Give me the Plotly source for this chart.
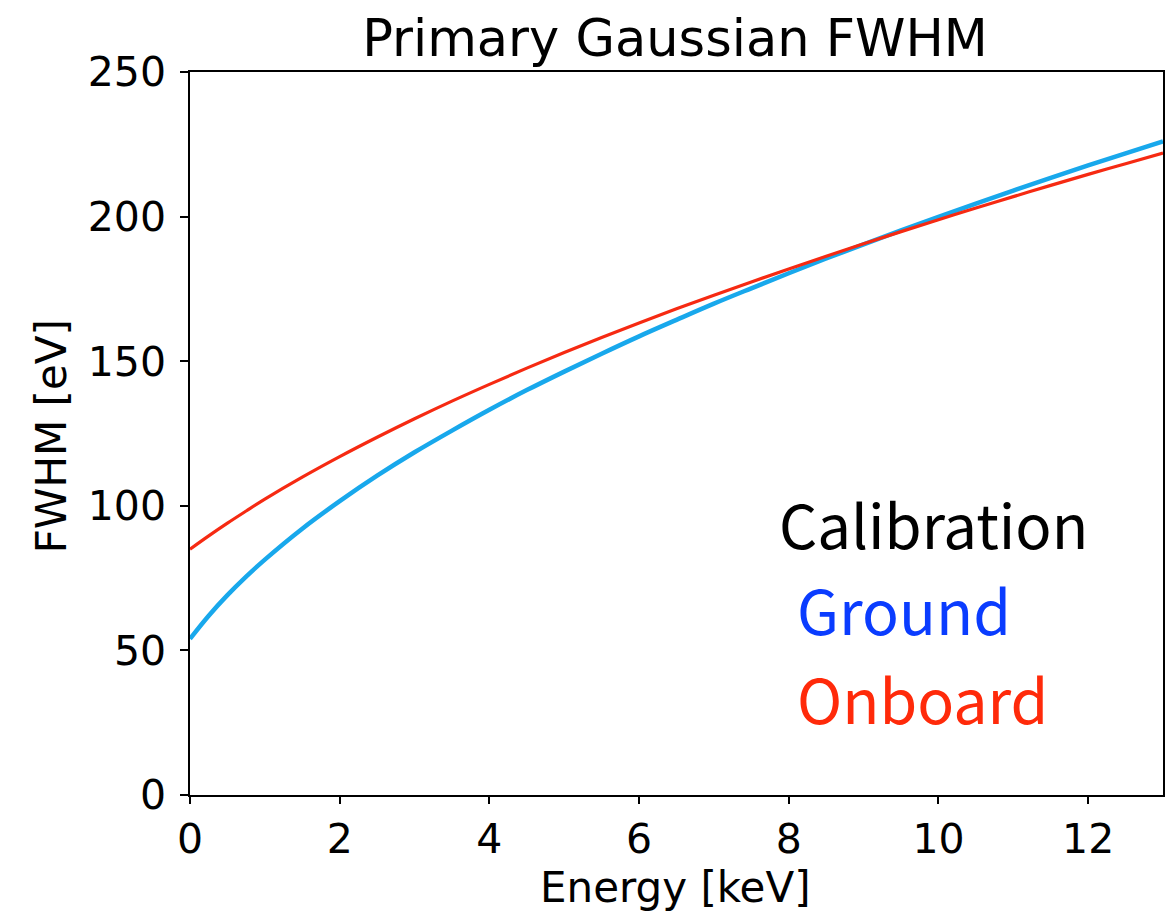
import plotly.graph_objects as go

energy = [0, 0.25, 0.5, 0.75, 1, 1.5, 2, 2.5, 3, 3.5, 4, 4.5, 5, 5.5, 6, 6.5, 7, 7.5,
          8, 8.5, 9, 9.5, 10, 10.5, 11, 11.5, 12, 12.5, 13]
fwhm_ground = [54.0, 62.0, 69.1, 75.5, 81.4, 92.1, 101.6, 110.4, 118.5, 126.0, 133.2, 140.0,
               146.4, 152.6, 158.6, 164.3, 169.9, 175.2, 180.4, 185.5, 190.4, 195.2, 199.9,
               204.5, 209.0, 213.4, 217.7, 221.9, 226.0]
fwhm_onboard = [85.0, 89.6, 94.0, 98.2, 102.3, 109.9, 117.0, 123.7, 130.1, 136.2, 142.0, 147.6,
                153.0, 158.2, 163.2, 168.1, 172.8, 177.4, 181.9, 186.3, 190.6, 194.8, 198.9,
                203.0, 206.9, 210.8, 214.6, 218.3, 222.0]
x_ticks = [0, 2, 4, 6, 8, 10, 12]
y_ticks = [0, 50, 100, 150, 200, 250]

TICKFONT = dict(family="DejaVu Sans", size=41, color="black")
LABELFONT = dict(family="DejaVu Sans", size=42, color="black")
ANNFONT = "Noto Sans CJK JP"

L, R, T, B = 190, 1165, 72, 795
px_w = R - L
px_h = B - T


def px(xp):
    return (xp - L) / px_w


def py(yp):
    return (B - yp) / px_h


fig = go.Figure()
fig.add_trace(go.Scatter(x=energy, y=fwhm_ground, mode="lines",
                         line=dict(color="#18a8ec", width=4.5, shape="spline"), name="Ground"))
fig.add_trace(go.Scatter(x=energy, y=fwhm_onboard, mode="lines",
                         line=dict(color="#f62a12", width=3.2, shape="spline"), name="Onboard"))

fig.update_layout(
    width=1174, height=915,
    margin=dict(l=L, r=1174 - R, t=T, b=915 - B),
    paper_bgcolor="white", plot_bgcolor="white",
    showlegend=False,
    title=dict(text="Primary Gaussian FWHM", x=px(676), xanchor="center", xref="paper",
               y=1 - 56 / 915, yref="container", yanchor="bottom",
               font=dict(family="DejaVu Sans", size=51, color="black")),
    annotations=[
        dict(text="Energy [keV]", x=px(676), y=py(861), xref="paper", yref="paper",
             xanchor="center", yanchor="top", showarrow=False, font=LABELFONT),
        dict(text="FWHM [eV]", x=px(51), y=py(436), xref="paper", yref="paper",
             xanchor="center", yanchor="middle", textangle=-90, showarrow=False, font=LABELFONT),
        dict(text="Calibration", x=px(778), y=py(522), xref="paper", yref="paper",
             xanchor="left", yanchor="middle", showarrow=False,
             font=dict(family=ANNFONT, size=60, color="black")),
        dict(text="Ground", x=px(796), y=py(608), xref="paper", yref="paper",
             xanchor="left", yanchor="middle", showarrow=False,
             font=dict(family=ANNFONT, size=61, color="#0a3cff")),
        dict(text="Onboard", x=px(796), y=py(697), xref="paper", yref="paper",
             xanchor="left", yanchor="middle", showarrow=False,
             font=dict(family=ANNFONT, size=61, color="#ff2a0a")),
    ],
)

fig.update_xaxes(range=[0, 13], tickvals=x_ticks, ticks="outside", ticklen=7, tickwidth=1.5,
                 tickcolor="black", showline=True, linecolor="black", linewidth=1.5, mirror=True,
                 showgrid=False, zeroline=False, tickfont=TICKFONT, ticklabelstandoff=0)
fig.update_yaxes(range=[0, 250], tickvals=y_ticks, ticks="outside", ticklen=8, tickwidth=1.5,
                 tickcolor="black", showline=True, linecolor="black", linewidth=1.5, mirror=True,
                 showgrid=False, zeroline=False, tickfont=TICKFONT, ticklabelstandoff=6)

fig.write_html("out.html")
